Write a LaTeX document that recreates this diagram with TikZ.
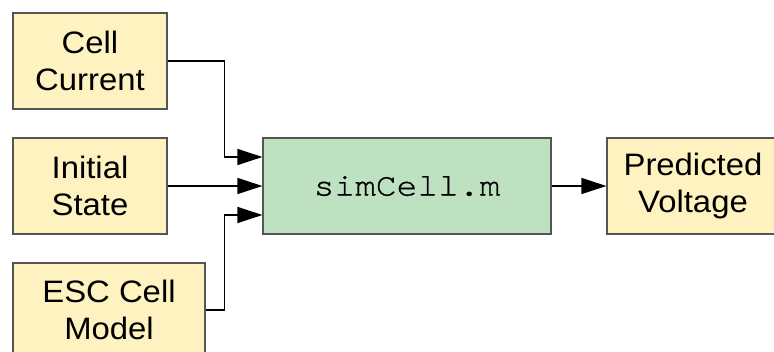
\documentclass[tikz,border=0pt]{standalone}
\usepackage{fontspec}
\setmainfont[FakeStretch=1.06]{Liberation Sans}
\newfontfamily\codefont[FakeStretch=1.08, FakeBold=0.8]{TeX Gyre Cursor}
\usetikzlibrary{arrows.meta}
\definecolor{boxyellow}{RGB}{254,243,192}
\definecolor{boxgreen}{RGB}{190,226,193}
\definecolor{boxedge}{RGB}{85,85,85}
\tikzset{
  block/.style={draw=boxedge, line width=1.2pt, align=center, inner sep=0pt,
    font=\fontsize{31}{36.5}\selectfont},
  inbox/.style={block, fill=boxyellow},
  procbox/.style={block, fill=boxgreen, font=\codefont\fontsize{32}{36.5}\selectfont},
  flow/.style={draw=black, line width=1.6pt,
    -{Triangle[length=25pt, width=16pt]}},
}
\begin{document}
\begin{tikzpicture}[x=1pt, y=-1pt]
  \useasboundingbox (0,0) rectangle (774,352);
  \clip (0,0) rectangle (774,352);

  % inputs
  \node[inbox, minimum width=154pt, minimum height=96pt] (cur)  at (90,61)  {Cell\\Current};
  \node[inbox, minimum width=154pt, minimum height=96pt] (init) at (90,186) {Initial\\State};
  \node[inbox, minimum width=192pt, minimum height=94pt] (esc)  at (109,310) {ESC Cell\\Model};

  % simulation block and output
  \node[procbox, minimum width=288pt, minimum height=96pt] (sim) at (407,186) {simCell.m};
  \node[inbox, minimum width=172pt, minimum height=96pt] (pv) at (693,186) {Predicted\\Voltage};

  % connectors
  \draw[flow] (cur.east) -- ++(57,0) |- ([yshift=29pt]sim.west);
  \draw[flow] (init.east) -- (sim.west);
  \draw[flow] (esc.east) -- ++(19,0) |- ([yshift=-29pt]sim.west);
  \draw[flow] (sim.east) -- (pv.west);
\end{tikzpicture}
\end{document}
